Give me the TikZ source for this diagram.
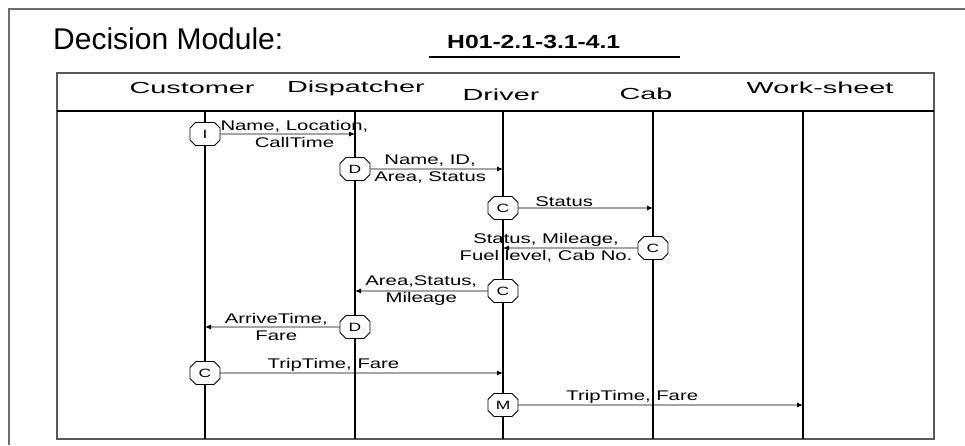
\documentclass[tikz,border=0pt]{standalone}
\usepackage{fontspec}
\setmainfont{Liberation Sans}
\newfontfamily\msgfont[FakeStretch=1.45]{Liberation Sans}
\newfontfamily\headfont[FakeStretch=1.8]{Liberation Sans}
\newfontfamily\codefont[FakeStretch=1.3]{Liberation Sans}
\usetikzlibrary{shapes.misc,arrows.meta}
\definecolor{framegray}{RGB}{110,110,110}

\begin{document}
\begin{tikzpicture}[x=1pt, y=-1pt,
		lifeline/.style={line width=1.1pt},
		msg/.style={line width=0.9pt, -{Latex[length=6pt,width=5pt]}},
		lbl/.style={font=\fontsize{14}{17}\msgfont, align=center, inner sep=1pt},
		head/.style={font=\fontsize{16}{18}\headfont, inner sep=0pt},
		act/.style={draw, chamfered rectangle, chamfered rectangle xsep=3pt, chamfered rectangle ysep=3pt,
			minimum width=30pt, minimum height=23pt, inner sep=0pt, fill=white, line width=0.9pt,
			font=\fontsize{12}{12}\msgfont}]
		\useasboundingbox (0,0) rectangle (965,445);

		% frames
		\draw[framegray, line width=2pt] (9,445) -- (9,9) -- (965,9);
		\draw[framegray!80!black, line width=1.8pt] (57,73) rectangle (934,439);
		\draw[line width=1.5pt] (57,111) -- (934,111);

		% title
		\node[anchor=base west, inner sep=0pt, font=\fontsize{30}{32}\selectfont] (title) at (53,49) {Decision Module:};
		\node[anchor=base west, inner sep=0pt, font=\fontsize{19}{20}\codefont\bfseries] (code) at (447,48) {H01-2.1-3.1-4.1};
		\draw[line width=1.2pt] (429,57) -- (680,57);

		% header
		\node[head] (h-cu) at (192,88) {Customer};
		\node[head] (h-di) at (356,88) {Dispatcher};
		\node[head] (h-dr) at (501,95) {Driver};
		\node[head] (h-cb) at (646,94) {Cab};
		\node[head] (h-ws) at (820,88) {Work-sheet};

		% lifelines
		\coordinate (cu) at (205,111);
		\coordinate (di) at (355,111);
		\coordinate (dr) at (503,111);
		\coordinate (cb) at (653,111);
		\coordinate (ws) at (803,111);
		\foreach \l in {cu,di,dr,cb,ws}
			\draw[lifeline] (\l) -- (\l |- 0,439);

		% activations
		\node[act] (a1) at (205,134) {I};
		\node[act] (a2) at (355,169) {D};
		\node[act] (a3) at (503,208) {C};
		\node[act] (a4) at (653,248) {C};
		\node[act] (a5) at (503,291) {C};
		\node[act] (a6) at (355,327) {D};
		\node[act] (a7) at (205,373) {C};
		\node[act] (a8) at (503,405) {M};

		% messages
		\draw[msg] (a1) -- node[lbl, pos=0.55] {Name, Location,\\CallTime} (a1 -| di);
		\draw[msg] (a2) -- node[lbl, pos=0.45] {Name, ID,\\Area, Status} (a2 -| dr);
		\draw[msg] (a3) -- node[lbl, pos=0.34, above] {Status} (a3 -| cb);
		\draw[msg] (a4) -- node[lbl, pos=0.68] {Status, Mileage,\\Fuel level, Cab No.} (a4 -| dr);
		\draw[msg] (a5) -- node[lbl, pos=0.5] {Area,Status,\\Mileage} (a5 -| di);
		\draw[msg] (a6) -- node[lbl, pos=0.47] {ArriveTime,\\Fare} (a6 -| cu);
		\draw[msg] (a7) -- node[lbl, pos=0.40, above] {TripTime, Fare} (a7 -| dr);
		\draw[msg] (a8) -- node[lbl, pos=0.40, above] {TripTime, Fare} (a8 -| ws);
	\end{tikzpicture}
\end{document}
